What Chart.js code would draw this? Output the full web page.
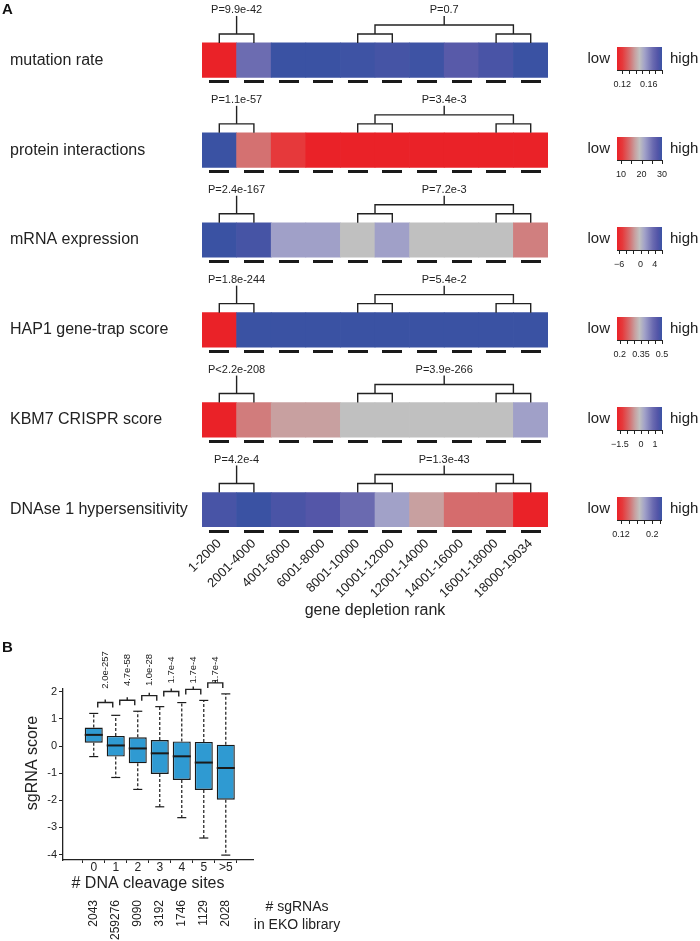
<!DOCTYPE html>
<html>
<head>
<meta charset="utf-8">
<script src="https://cdn.jsdelivr.net/npm/chart.js@4.4.1/dist/chart.umd.min.js"></script>
<style>
    body { margin: 0; background: #fff; }
    #wrap { position: relative; width: 700px; height: 941px; }
    canvas { position: absolute; left: 0; }
    #chartA { top: 0; }
    #chartB { top: 625px; }
</style>
</head>
<body>
<div id="wrap">
    <canvas id="chartA" width="700" height="625"></canvas>
    <canvas id="chartB" width="700" height="316"></canvas>
</div>
<script>
Chart.defaults.font.family = '"Liberation Sans", Arial, Helvetica, sans-serif';
Chart.defaults.color = '#222';

// ---- panel A data ----
var ROW_NAMES = ['mutation rate', 'protein interactions', 'mRNA expression', 'HAP1 gene-trap score', 'KBM7 CRISPR score', 'DNAse 1 hypersensitivity'];
var BINS = ['1-2000', '2001-4000', '4001-6000', '6001-8000', '8001-10000', '10001-12000', '12001-14000', '14001-16000', '16001-18000', '18000-19034'];

var MUTATION_RATE = [0.112, 0.166, 0.180, 0.180, 0.179, 0.177, 0.179, 0.172, 0.176, 0.180];
var PROTEIN_INTERACTIONS = [30, 14.2, 10.6, 8, 8, 8, 8, 8, 8, 8];
var MRNA_EXPRESSION = [6, 5.4, 1.2, 1.2, -0.3, 1.2, -0.3, -0.3, -0.3, -2.6];
var HAP1_SCORE = [0.18, 0.5, 0.5, 0.5, 0.5, 0.5, 0.5, 0.5, 0.5, 0.5];
var KBM7_SCORE = [-1.7, -0.71, -0.42, -0.42, -0.1, -0.1, -0.1, -0.1, -0.1, 0.28];
var DNASE_HS = [0.219, 0.225, 0.218, 0.2135, 0.202, 0.181, 0.156, 0.141, 0.141, 0.11];

var P_LEFT = ['P=9.9e-42', 'P=1.1e-57', 'P=2.4e-167', 'P=1.8e-244', 'P<2.2e-208', 'P=4.2e-4'];
var P_RIGHT = ['P=0.7', 'P=3.4e-3', 'P=7.2e-3', 'P=5.4e-2', 'P=3.9e-266', 'P=1.3e-43'];

// colour key ranges per row
var LEGEND_LO = [0.112, 8, -6.6, 0.18, -1.7, 0.11];
var LEGEND_HI = [0.18, 30, 6, 0.5, 1.5, 0.225];
var LEGEND_TICKS = [
    [0.12, 0.13, 0.14, 0.15, 0.16, 0.17, 0.18],
    [10, 15, 20, 25, 30],
    [-6, -4, -2, 0, 2, 4, 6],
    [0.2, 0.25, 0.3, 0.35, 0.4, 0.45, 0.5],
    [-1.5, -1, -0.5, 0, 0.5, 1, 1.5],
    [0.12, 0.14, 0.16, 0.18, 0.2, 0.22]
];
var LEGEND_LABELS = [[0.12, 0.16], [10, 20, 30], [-6, 0, 4], [0.2, 0.35, 0.5], [-1.5, 0, 1], [0.12, 0.2]];

// ---- panel B data ----
var CLEAVAGE = ['0', '1', '2', '3', '4', '5', '>5'];
var COUNTS = ['2043', '259276', '9090', '3192', '1746', '1129', '2028'];
var Q1 = [0.12, -0.39, -0.64, -1.03, -1.25, -1.62, -1.98];
var MEDIAN = [0.41, 0.02, -0.09, -0.27, -0.38, -0.61, -0.81];
var Q3 = [0.68, 0.37, 0.32, 0.22, 0.17, 0.15, 0.05];
var WHISK_LO = [-0.39, -1.16, -1.60, -2.24, -2.64, -3.39, -4.02];
var WHISK_HI = [1.20, 1.13, 1.28, 1.45, 1.60, 1.68, 1.92];
var P_PAIRS = ['2.0e-257', '4.7e-58', '1.0e-28', '1.7e-4', '1.7e-4', '1.7e-4'];
var Y_TICKS = [-4, -3, -2, -1, 0, 1, 2];

var ROWS = [MUTATION_RATE, PROTEIN_INTERACTIONS, MRNA_EXPRESSION, HAP1_SCORE, KBM7_SCORE, DNASE_HS];

// red - grey - blue key
var COLORMAP = [
    [0, '#ea2228'], [0.12, '#e6393b'], [0.28, '#d47070'], [0.4, '#c8a0a0'],
    [0.5, '#c0c0c0'], [0.62, '#a0a0c8'], [0.8, '#6a6ab0'], [0.9, '#5456a8'], [1, '#3a52a3']
];
var CELL_HALF = 0.192;
var FONT = '"Liberation Sans", Arial, Helvetica, sans-serif';

function hexRgb(h) {
    return [parseInt(h.substr(1, 2), 16), parseInt(h.substr(3, 2), 16), parseInt(h.substr(5, 2), 16)];
}

function cmap(t) {
    t = Math.max(0, Math.min(1, t));
    for (var k = 1; k < COLORMAP.length; k++) {
        if (t <= COLORMAP[k][0]) {
            var a = COLORMAP[k - 1], b = COLORMAP[k];
            var f = (t - a[0]) / (b[0] - a[0]);
            var ca = hexRgb(a[1]), cb = hexRgb(b[1]);
            return 'rgb(' + ca.map(function (v, i) { return Math.round(v + (cb[i] - v) * f); }).join(',') + ')';
        }
    }
    return COLORMAP[COLORMAP.length - 1][1];
}

function cellColor(r, v) {
    return cmap((v - LEGEND_LO[r]) / (LEGEND_HI[r] - LEGEND_LO[r]));
}

function fmt(v) {
    return String(v).replace('-', '\u2212');
}

function line(ctx, x1, y1, x2, y2) {
    ctx.beginPath();
    ctx.moveTo(x1, y1);
    ctx.lineTo(x2, y2);
    ctx.stroke();
}

function bracket(ctx, x1, x2, yTop, yEnd) {
    ctx.beginPath();
    ctx.moveTo(x1, yEnd);
    ctx.lineTo(x1, yTop);
    ctx.lineTo(x2, yTop);
    ctx.lineTo(x2, yEnd);
    ctx.stroke();
}

var heatmapDecor = {
    id: 'heatmapDecor',
    afterDatasetsDraw: function (chart) {
        var ctx = chart.ctx, xs = chart.scales.x, ys = chart.scales.y;
        var c = function (j) { return xs.getPixelForValue(j); };
        ctx.save();
        ctx.font = 'bold 15px ' + FONT;
        ctx.fillStyle = '#111';
        ctx.textBaseline = 'middle';
        ctx.fillText('A', 2, 10);

        ROW_NAMES.forEach(function (name, r) {
            var top = ys.getPixelForValue(r - CELL_HALF);
            var bot = ys.getPixelForValue(r + CELL_HALF);
            var mid = (top + bot) / 2;

            // dashes under the cells
            ctx.fillStyle = '#1a1a1a';
            BINS.forEach(function (b, j) { ctx.fillRect(Math.round(c(j) - 10), Math.round(bot + 3), 20, 3); });

            // dendrogram brackets
            ctx.strokeStyle = '#222';
            ctx.lineWidth = 1.4;
            var ml = (c(0) + c(1)) / 2;
            bracket(ctx, c(0), c(1), top - 9, top);
            line(ctx, ml, top - 9, ml, top - 27);
            bracket(ctx, c(4), c(5), top - 9, top);
            bracket(ctx, c(8), c(9), top - 9, top);
            var m1 = (c(4) + c(5)) / 2, m2 = (c(8) + c(9)) / 2, mr = (m1 + m2) / 2;
            bracket(ctx, m1, m2, top - 18, top - 9);
            line(ctx, mr, top - 18, mr, top - 27);

            ctx.fillStyle = '#222';
            ctx.font = '11px ' + FONT;
            ctx.textAlign = 'center';
            ctx.textBaseline = 'middle';
            ctx.fillText(P_LEFT[r], ml, top - 33);
            ctx.fillText(P_RIGHT[r], mr, top - 33);

            // colour key
            var bx0 = chart.chartArea.right + 69, bx1 = bx0 + 45;
            var by0 = Math.round(mid - 13), bh = 23;
            var g = ctx.createLinearGradient(bx0, 0, bx1, 0);
            COLORMAP.forEach(function (s) { g.addColorStop(s[0], s[1]); });
            ctx.fillStyle = g;
            ctx.fillRect(bx0, by0, bx1 - bx0, bh);
            ctx.lineWidth = 1;
            ctx.strokeStyle = '#222';
            line(ctx, bx0, by0 + bh + 0.5, bx1, by0 + bh + 0.5);
            var lo = LEGEND_LO[r], hi = LEGEND_HI[r];
            var kx = function (v) { return bx0 + (v - lo) / (hi - lo) * (bx1 - bx0); };
            LEGEND_TICKS[r].forEach(function (v) {
                var x = Math.round(kx(v)) + 0.5;
                line(ctx, x, by0 + bh, x, by0 + bh + 4);
            });
            ctx.fillStyle = '#222';
            ctx.font = '9px ' + FONT;
            LEGEND_LABELS[r].forEach(function (v) { ctx.fillText(fmt(v), kx(v), by0 + bh + 15); });

            ctx.font = '15px ' + FONT;
            ctx.textAlign = 'right';
            ctx.fillText('low', bx0 - 7, by0 + bh / 2);
            ctx.textAlign = 'left';
            ctx.fillText('high', bx1 + 8, by0 + bh / 2);
        });
        ctx.restore();
    }
};

var heatmapSets = ROWS.map(function (vals, r) {
    return {
        label: ROW_NAMES[r],
        data: vals.map(function () { return [r - CELL_HALF, r + CELL_HALF]; }),
        backgroundColor: vals.map(function (v) { return cellColor(r, v); }),
        borderWidth: 0,
        grouped: false,
        barPercentage: 1,
        categoryPercentage: 1
    };
});

new Chart(document.getElementById('chartA'), {
    type: 'bar',
    data: { labels: BINS, datasets: heatmapSets },
    options: {
        responsive: false,
        animation: false,
        devicePixelRatio: 1,
        events: [],
        layout: { padding: { left: 10, right: 152, top: 20, bottom: 0 } },
        plugins: { legend: { display: false }, tooltip: { enabled: false } },
        scales: {
            x: {
                type: 'category',
                offset: true,
                grid: { display: false, drawTicks: false },
                border: { display: false },
                ticks: { minRotation: 45, maxRotation: 45, autoSkip: false, padding: 9, font: { size: 13 }, color: '#222' },
                title: { display: true, text: 'gene depletion rank', font: { size: 16 }, color: '#222', padding: { top: 0, bottom: 5 } },
                afterFit: function (s) { s.height = 98; }
            },
            y: {
                type: 'linear',
                reverse: true,
                min: -0.447,
                max: 5.192,
                grid: { display: false, drawTicks: false },
                border: { display: false },
                afterBuildTicks: function (s) { s.ticks = ROW_NAMES.map(function (n, i) { return { value: i }; }); },
                ticks: {
                    callback: function (v) { return ROW_NAMES[v]; },
                    crossAlign: 'far',
                    padding: 0,
                    font: { size: 16 },
                    color: '#222'
                },
                afterFit: function (s) { s.width = 192; }
            }
        }
    },
    plugins: [heatmapDecor]
});

// ---- panel B ----
var boxDecor = {
    id: 'boxDecor',
    afterDatasetsDraw: function (chart) {
        var ctx = chart.ctx, xs = chart.scales.x, ys = chart.scales.y;
        var bars = chart.getDatasetMeta(0).data;
        var area = chart.chartArea;
        ctx.save();
        ctx.strokeStyle = '#1a1a1a';
        CLEAVAGE.forEach(function (lab, i) {
            var x = xs.getPixelForValue(i);
            var half = bars[i].width / 2;
            ctx.lineWidth = 1.2;
            ctx.setLineDash([3, 2]);
            line(ctx, x, ys.getPixelForValue(Q3[i]), x, ys.getPixelForValue(WHISK_HI[i]));
            line(ctx, x, ys.getPixelForValue(Q1[i]), x, ys.getPixelForValue(WHISK_LO[i]));
            ctx.setLineDash([]);
            line(ctx, x - half / 2, ys.getPixelForValue(WHISK_HI[i]), x + half / 2, ys.getPixelForValue(WHISK_HI[i]));
            line(ctx, x - half / 2, ys.getPixelForValue(WHISK_LO[i]), x + half / 2, ys.getPixelForValue(WHISK_LO[i]));
            ctx.lineWidth = 2;
            line(ctx, x - half, ys.getPixelForValue(MEDIAN[i]), x + half, ys.getPixelForValue(MEDIAN[i]));
        });

        // pairwise brackets with p-values
        ctx.lineWidth = 1.4;
        ctx.strokeStyle = '#222';
        ctx.fillStyle = '#222';
        P_PAIRS.forEach(function (p, i) {
            var yb = ys.getPixelForValue(Math.max(WHISK_HI[i], WHISK_HI[i + 1])) - 11;
            var x1 = xs.getPixelForValue(i) + 4, x2 = xs.getPixelForValue(i + 1) - 3;
            var xm = (x1 + x2) / 2;
            bracket(ctx, x1, x2, yb, yb + 5);
            line(ctx, xm, yb, xm, yb - 3);
            ctx.save();
            ctx.translate(xm, area.top - 19);
            ctx.rotate(-Math.PI / 2);
            ctx.font = '9.5px ' + FONT;
            ctx.textAlign = 'center';
            ctx.textBaseline = 'middle';
            ctx.fillText(p, 0, 0);
            ctx.restore();
        });

        ctx.fillStyle = '#111';
        ctx.font = 'bold 15px ' + FONT;
        ctx.textAlign = 'left';
        ctx.textBaseline = 'middle';
        ctx.fillText('B', 2, 23);

        ctx.fillStyle = '#222';
        ctx.font = '16px ' + FONT;
        ctx.textAlign = 'center';
        ctx.fillText('# DNA cleavage sites', 148, area.bottom + 24);
        ctx.save();
        ctx.translate(33, area.top + 74);
        ctx.rotate(-Math.PI / 2);
        ctx.fillText('sgRNA score', 0, 0);
        ctx.restore();

        ctx.font = '14px ' + FONT;
        ctx.fillText('# sgRNAs', 297, area.bottom + 47);
        ctx.fillText('in EKO library', 297, area.bottom + 65);
        ctx.restore();
    }
};

var categoryTicks = function (s) { s.ticks = CLEAVAGE.map(function (c, i) { return { value: i }; }); };

new Chart(document.getElementById('chartB'), {
    type: 'bar',
    data: {
        datasets: [{
            label: 'sgRNA score',
            data: CLEAVAGE.map(function (c, i) { return { x: i, y: [Q1[i], Q3[i]] }; }),
            backgroundColor: '#2f9ad2',
            borderColor: '#1a1a1a',
            borderWidth: 1.4,
            borderSkipped: false,
            barPercentage: 0.82,
            categoryPercentage: 1
        }]
    },
    options: {
        responsive: false,
        animation: false,
        devicePixelRatio: 1,
        events: [],
        layout: { padding: { left: 0, right: 447, top: 64, bottom: 0 } },
        plugins: { legend: { display: false }, tooltip: { enabled: false } },
        scales: {
            x: {
                type: 'linear',
                min: -0.78,
                max: 6.62,
                weight: 0,
                afterBuildTicks: categoryTicks,
                grid: { drawOnChartArea: false, drawTicks: true, tickLength: 3, color: '#222' },
                border: { display: true, color: '#222', width: 1.3 },
                ticks: { callback: function (v) { return CLEAVAGE[v]; }, autoSkip: false, maxRotation: 0, padding: -3, font: { size: 12 }, color: '#222' },
                afterFit: function (s) { s.height = 38; }
            },
            x2: {
                type: 'linear',
                position: 'bottom',
                min: -0.78,
                max: 6.62,
                weight: 1,
                afterBuildTicks: categoryTicks,
                grid: { display: false, drawTicks: false },
                border: { display: false },
                ticks: { callback: function (v) { return COUNTS[v]; }, autoSkip: false, minRotation: 90, maxRotation: 90, padding: 2, font: { size: 12 }, color: '#222' },
                afterFit: function (s) { s.height = 43; }
            },
            y: {
                type: 'linear',
                min: -4.2,
                max: 2.1,
                afterBuildTicks: function (s) { s.ticks = Y_TICKS.map(function (v) { return { value: v }; }); },
                grid: { drawOnChartArea: false, drawTicks: true, tickLength: 4, color: '#222' },
                border: { display: true, color: '#222', width: 1.3 },
                ticks: { padding: 2, font: { size: 11 }, color: '#222' },
                afterFit: function (s) { s.width = 63; }
            }
        }
    },
    plugins: [boxDecor]
});
</script>
</body>
</html>
